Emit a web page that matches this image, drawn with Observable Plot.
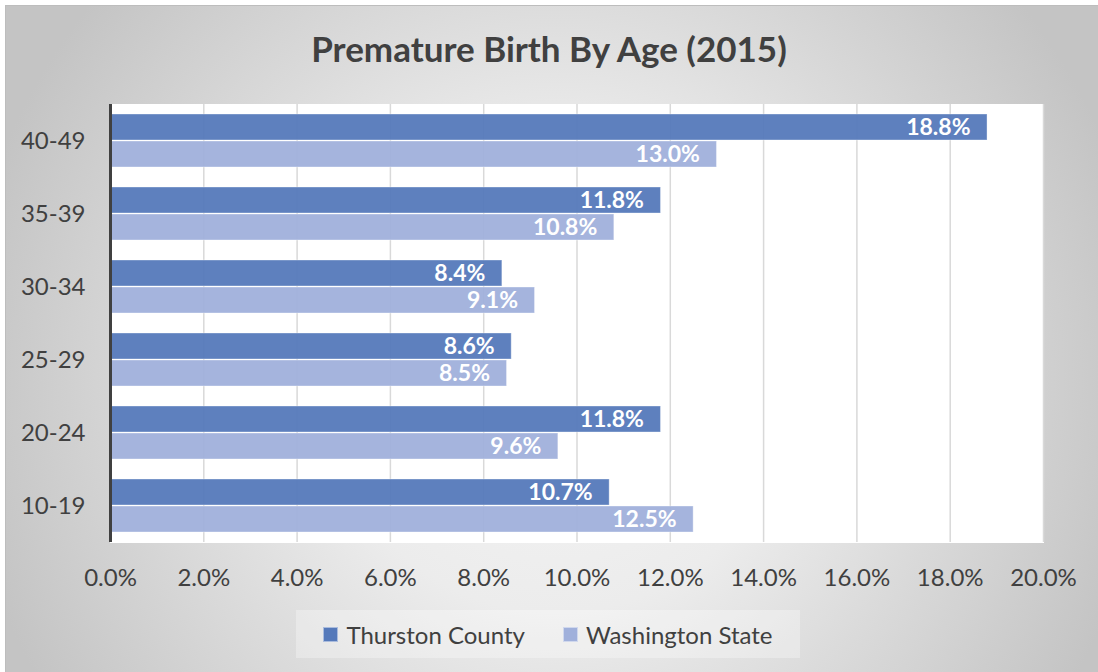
<!DOCTYPE html>
<html>
<head>
<meta charset="utf-8">
<script src="https://cdn.jsdelivr.net/npm/d3@7"></script>
<script src="https://cdn.jsdelivr.net/npm/@observablehq/plot@0.6"></script>
<style>
  html, body { margin: 0; padding: 0; background: #ffffff; }
  #wrap { position: relative; width: 1098px; height: 672px; overflow: hidden; font-family: Lato, "Open Sans", sans-serif; }
  #box { position: absolute; left: 5px; top: 5px; width: 1100px; height: 680px;
         border-left: 1px solid #bdbdbd; border-top: 1px solid #bdbdbd;
         background: radial-gradient(circle farthest-corner at 50% 55%, #f5f5f5 0%, #ececec 35%, #dbdbdb 58%, #c4c4c4 90%); }
  #title { position: absolute; left: 0; top: 27px; width: 1098px; text-align: center; font-size: 35px; font-weight: bold; color: #404040; }
  #chart { position: absolute; left: 0; top: 0; }
  #legend { position: absolute; left: 296px; top: 610px; width: 504px; height: 48px; background: rgba(255,255,255,0.3);
            display: flex; align-items: center; justify-content: center; gap: 38px; font-size: 24px; color: #404040; }
  .item { display: flex; align-items: center; }
  .sw { width: 13px; height: 13px; margin-right: 8px; border: 1px solid rgba(255,255,255,0.5); }
</style>
</head>
<body>
<div id="wrap">
  <div id="box"></div>
  <div id="chart"></div>
  <div id="title">Premature Birth By Age (2015)</div>
  <div id="legend"></div>
</div>
<script>
const ageGroups = ["40-49", "35-39", "30-34", "25-29", "20-24", "10-19"];
const seriesNames = ["Thurston County", "Washington State"];
const thurston = [18.8, 11.8, 8.4, 8.6, 11.8, 10.7];
const washington = [13.0, 10.8, 9.1, 8.5, 9.6, 12.5];
const xTicks = [0, 2, 4, 6, 8, 10, 12, 14, 16, 18, 20];
const colors = ["#5579ba", "#a0b0db"];

const data = [];
ageGroups.forEach((age, i) => {
  data.push({age, series: seriesNames[0], value: thurston[i]});
  data.push({age, series: seriesNames[1], value: washington[i]});
});

const chart = Plot.plot({
  width: 1098,
  height: 600,
  marginLeft: 110,
  marginRight: 55,
  marginTop: 103,
  marginBottom: 57,
  style: {background: "transparent", fontFamily: "Lato, 'Open Sans', sans-serif", color: "#404040"},
  x: {domain: [0, 20], ticks: xTicks, tickFormat: d => d.toFixed(1) + "%", tickSize: 0, tickPadding: 26, label: null},
  y: {domain: seriesNames, axis: null, paddingInner: 0.03, paddingOuter: 0.36},
  fy: {domain: ageGroups, padding: 0, label: null, tickSize: 0, tickPadding: 25},
  color: {domain: seriesNames, range: colors},
  marks: [
    Plot.frame({fill: "white", stroke: "white", strokeWidth: 1}),
    Plot.ruleX(xTicks.slice(1), {stroke: "#d9d9d9", strokeWidth: 1.5}),
    Plot.barX(data, {x: "value", y: "series", fy: "age", fill: "series", fillOpacity: 0.95, stroke: "white", strokeOpacity: 0.35, strokeWidth: 1}),
    Plot.text(data, {x: "value", y: "series", fy: "age", text: d => d.value.toFixed(1) + "%", textAnchor: "end", dx: -17, fill: "white", fontWeight: "bold", fontSize: 23}),
    Plot.ruleX([0], {stroke: "#404040", strokeWidth: 3})
  ]
});
chart.querySelectorAll("g[aria-label$='tick label']").forEach(g => { g.setAttribute("font-size", "24"); g.setAttribute("fill", "#404040"); });
document.getElementById("chart").appendChild(chart);

const legend = document.getElementById("legend");
seriesNames.forEach((name, i) => {
  const item = document.createElement("div");
  item.className = "item";
  const sw = document.createElement("div");
  sw.className = "sw";
  sw.style.background = colors[i];
  const label = document.createElement("span");
  label.textContent = name;
  item.appendChild(sw);
  item.appendChild(label);
  legend.appendChild(item);
});
</script>
</body>
</html>
